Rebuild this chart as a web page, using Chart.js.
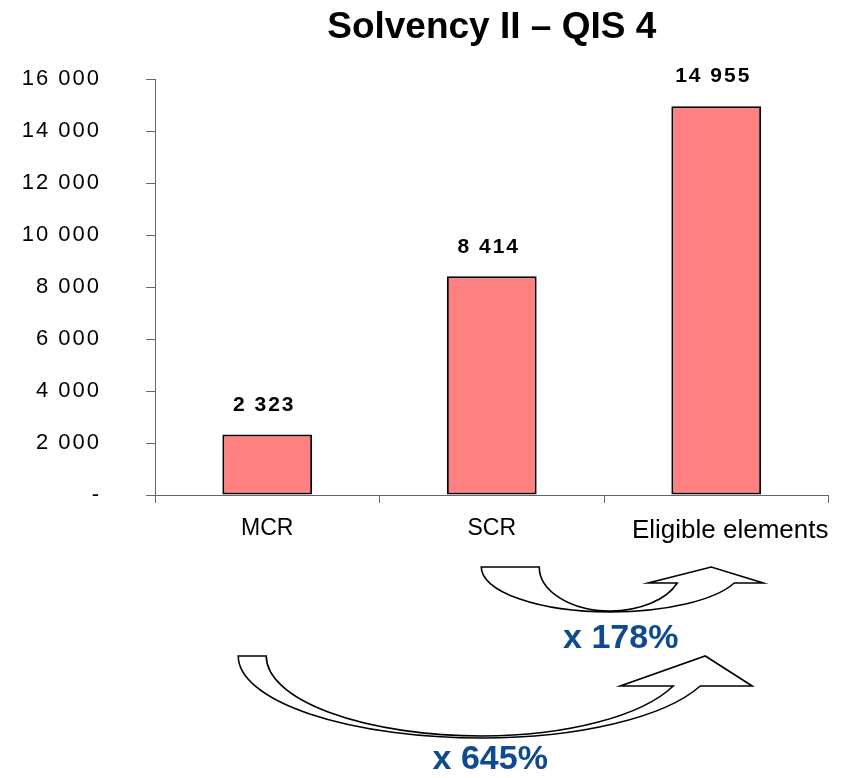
<!DOCTYPE html>
<html>
<head>
<meta charset="utf-8">
<title>Solvency II – QIS 4</title>
<script src="https://cdn.jsdelivr.net/npm/chart.js@4.4.1/dist/chart.umd.min.js"></script>
<style>
  html, body { margin: 0; padding: 0; background: #fff; }
  #wrap { width: 841px; height: 778px; position: relative; }
</style>
</head>
<body>
<div id="wrap"><canvas id="c"></canvas></div>
<script>
// Capital requirements vs. eligible elements
const categories = ['MCR', 'SCR', 'Eligible elements'];
const amounts = [2323, 8414, 14955];
const yTickValues = [0, 2000, 4000, 6000, 8000, 10000, 12000, 14000, 16000];
// Coverage ratios shown under the chart (source category -> target category)
const multipliers = [
  { from: 1, to: 2, text: 'x 178%' },
  { from: 0, to: 2, text: 'x 645%' }
];

const FONT = "'Liberation Sans', Arial, Helvetica, sans-serif";
const fmt = v => v === 0 ? '-' : String(v).replace(/\B(?=(\d{3})+(?!\d))/g, ' ');

// Curved-arrow outline: two elliptic bands meeting at the bottom, ending in an arrow head
function curvedArrow(ctx, g) {
  const ryO = g.yBo - g.yT, ryI = g.yBi - g.yT;
  const thO = Math.asin((g.yH - g.yT) / ryO);
  const thI = Math.asin((g.yH - g.yT) / ryI);
  const rxRO = (g.xeo - g.xb) / Math.cos(thO);
  const rxRI = (g.xei - g.xb) / Math.cos(thI);
  ctx.beginPath();
  ctx.moveTo(g.x0o, g.yT);
  ctx.ellipse(g.xb, g.yT, g.xb - g.x0o, ryO, 0, Math.PI, Math.PI / 2, true);
  ctx.ellipse(g.xb, g.yT, rxRO, ryO, 0, Math.PI / 2, thO, true);
  ctx.lineTo(g.tipR, g.yH);
  ctx.lineTo(g.apexX, g.apexY);
  ctx.lineTo(g.tipL, g.yH);
  ctx.lineTo(g.xei, g.yH);
  ctx.ellipse(g.xb, g.yT, rxRI, ryI, 0, thI, Math.PI / 2, false);
  ctx.ellipse(g.xb, g.yT, g.xb - g.x0i, ryI, 0, Math.PI / 2, Math.PI, false);
  ctx.closePath();
  ctx.fillStyle = '#fff';
  ctx.fill();
  ctx.lineWidth = 1.6;
  ctx.strokeStyle = '#000';
  ctx.lineJoin = 'miter';
  ctx.stroke();
}

const decorations = {
  id: 'decorations',
  beforeDraw(chart) {
    chart.ctx.letterSpacing = '0px';
    // long last category label sits flush with the end of the axis
    const x = chart.scales.x;
    const items = x.getLabelItems();
    const last = items[items.length - 1];
    if (last) {
      last.options.textAlign = 'right';
      last.options.translation[0] = x.right;
    }
  },
  afterDatasetsDraw(chart) {
    // value-axis labels are drawn tracked out
    chart.ctx.letterSpacing = '2px';
  },
  afterDraw(chart) {
    const ctx = chart.ctx;
    const meta = chart.getDatasetMeta(0);
    const xs = i => chart.scales.x.getPixelForValue(i);
    const b = chart.chartArea.bottom;

    // value labels above the bars
    ctx.save();
    ctx.letterSpacing = '2px';
    ctx.font = `bold 21px ${FONT}`;
    ctx.fillStyle = '#000';
    ctx.textAlign = 'center';
    ctx.textBaseline = 'middle';
    meta.data.forEach((bar, i) => ctx.fillText(fmt(amounts[i]), bar.x - 3, bar.y - 29.5));
    ctx.restore();

    ctx.save();
    ctx.letterSpacing = '0px';
    // SCR -> Eligible elements
    curvedArrow(ctx, {
      yT: b + 72, yBo: b + 117, yBi: b + 116, yH: b + 88, apexY: b + 72,
      x0o: xs(1) - 10.5, x0i: xs(1) + 47.5, xb: xs(1) + 118.5,
      xeo: xs(2) + 18, xei: xs(2) - 39,
      tipL: xs(2) - 68, apexX: xs(2) - 5, tipR: xs(2) + 47
    });
    // MCR -> Eligible elements
    curvedArrow(ctx, {
      yT: b + 161, yBo: b + 243, yBi: b + 241, yH: b + 191, apexY: b + 161,
      x0o: xs(0) - 29, x0i: xs(0) - 1, xb: xs(0) + 215,
      xeo: xs(2) - 16, xei: xs(2) - 43,
      tipL: xs(2) - 96, apexX: xs(2) - 11, tipR: xs(2) + 36
    });

    ctx.font = `bold 34px ${FONT}`;
    ctx.fillStyle = '#0E4A8F';
    ctx.textAlign = 'center';
    ctx.textBaseline = 'middle';
    const textPos = [
      { x: xs(1) + 129, y: b + 144 },
      { x: xs(1) - 1.5, y: b + 265 }
    ];
    multipliers.forEach((m, i) => ctx.fillText(m.text, textPos[i].x, textPos[i].y));
    ctx.restore();
  }
};

new Chart(document.getElementById('c'), {
  type: 'bar',
  data: {
    labels: categories,
    datasets: [{
      data: amounts,
      backgroundColor: '#FF8080',
      borderColor: '#000',
      borderWidth: 2,
      borderSkipped: false,
      categoryPercentage: 1,
      barPercentage: 0.4
    }]
  },
  options: {
    responsive: true,
    maintainAspectRatio: false,
    animation: false,
    devicePixelRatio: 1,
    layout: { padding: { top: 0, left: 0, right: 12.5, bottom: 0 } },
    plugins: {
      legend: { display: false },
      tooltip: { enabled: false },
      title: {
        display: true,
        text: 'Solvency II – QIS 4',
        fullSize: false,
        color: '#000',
        font: { family: FONT, size: 37, weight: 'bold', lineHeight: 1.2 },
        padding: { top: 5.8, bottom: 28.8 }
      }
    },
    scales: {
      x: {
        offset: true,
        afterFit(s) { s.height = 283; },
        grid: { offset: true, drawOnChartArea: false, tickLength: 8, color: '#666', lineWidth: 1 },
        border: { color: '#666', width: 1 },
        ticks: {
          padding: 12,
          color: '#000',
          maxRotation: 0,
          autoSkip: false,
          font: ctx => ({ family: FONT, size: ctx.index === categories.length - 1 ? 26 : 23 })
        }
      },
      y: {
        min: 0,
        max: 16000,
        afterBuildTicks(s) { s.ticks = yTickValues.map(v => ({ value: v })); },
        afterFit(s) { s.width = 155; },
        grid: { drawOnChartArea: false, tickLength: 9, color: '#666', lineWidth: 1 },
        border: { color: '#666', width: 1 },
        ticks: {
          z: 1,
          padding: 45,
          color: '#000',
          font: { family: FONT, size: 22 },
          callback: v => fmt(v)
        }
      }
    }
  },
  plugins: [decorations]
});
</script>
</body>
</html>
